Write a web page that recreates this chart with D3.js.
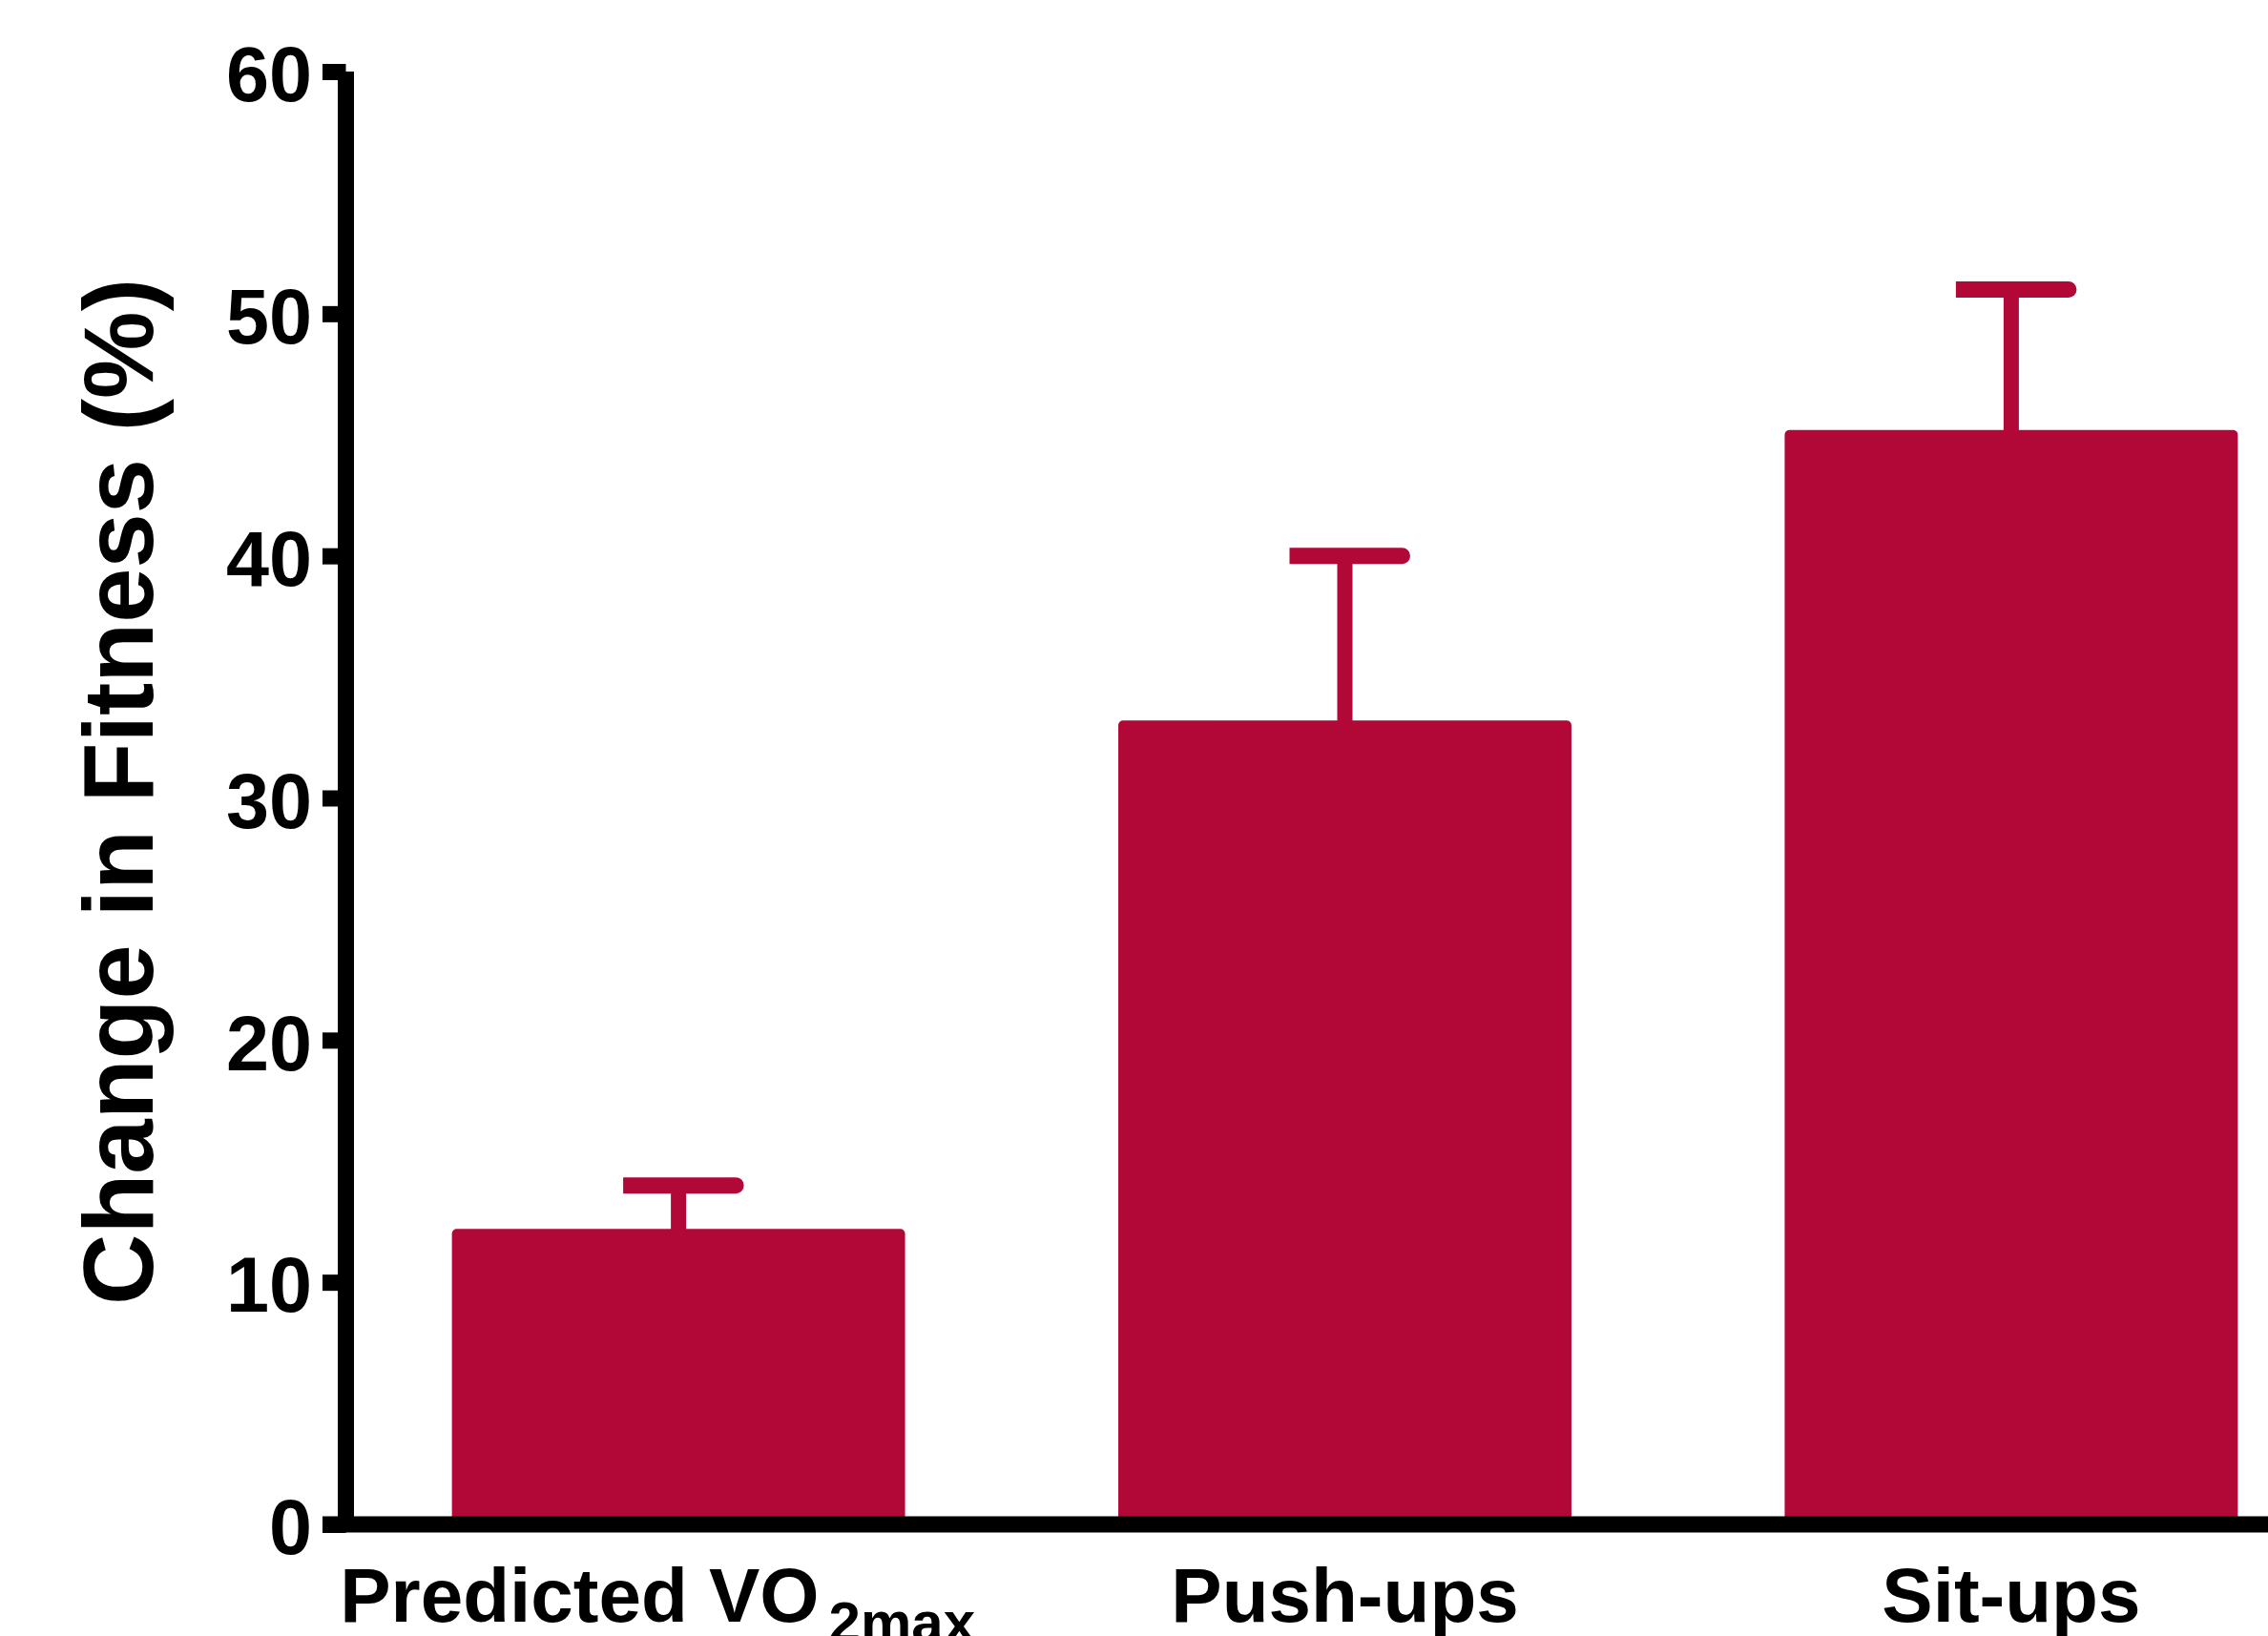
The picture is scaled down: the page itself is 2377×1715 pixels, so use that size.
<!DOCTYPE html>
<html>
<head>
<meta charset="utf-8">
<script src="https://cdn.jsdelivr.net/npm/d3@7"></script>
<style>
  html, body { margin: 0; padding: 0; background: #fff; }
  svg { display: block; }
  text { font-family: "Liberation Sans", Arial, sans-serif; font-weight: bold; fill: #000; }
</style>
</head>
<body>
<svg id="chart" width="2377" height="1715"></svg>
<script>
const categories = ["Predicted VO2max", "Push-ups", "Sit-ups"];
const means = [12.2, 33.2, 45.2];
const errors = [1.8, 6.8, 5.8];
const yTicks = [0, 10, 20, 30, 40, 50, 60];
const yTitle = "Change in Fitness (%)";

const W = 2377, H = 1715;
const barColor = "#b20838";
const svg = d3.select("#chart");

const axisX = 362.5;
const y = d3.scaleLinear().domain([0, 60]).range([1598, 75]);
const x = d3.scaleBand().domain(categories).range([364, 2455])
  .paddingInner(0.32).paddingOuter(0.157);

const data = categories.map((c, i) => ({ c, m: means[i], e: errors[i] }));

// bars
svg.append("g").selectAll("rect").data(data).join("rect")
  .attr("x", d => x(d.c))
  .attr("y", d => y(d.m))
  .attr("width", x.bandwidth())
  .attr("height", d => y(0) - y(d.m) + 5)
  .attr("rx", 5)
  .attr("fill", barColor);

// error whiskers
const eb = svg.append("g");
eb.selectAll("line").data(data).join("line")
  .attr("x1", d => x(d.c) + x.bandwidth() / 2)
  .attr("x2", d => x(d.c) + x.bandwidth() / 2)
  .attr("y1", d => y(d.m) + 2)
  .attr("y2", d => y(d.m + d.e))
  .attr("stroke", barColor)
  .attr("stroke-width", 16);
// error caps (square left end, rounded right end)
const h = 8.5;
eb.selectAll("path").data(data).join("path")
  .attr("d", d => {
    const cx = x(d.c) + x.bandwidth() / 2;
    const yy = y(d.m + d.e);
    const x0 = cx - 58, x1 = cx + 60;
    return `M${x0},${yy - h} L${x1},${yy - h} A${h},${h} 0 0 1 ${x1},${yy + h} L${x0},${yy + h} Z`;
  })
  .attr("fill", barColor);

// y axis
const yAxis = svg.append("g")
  .attr("transform", `translate(${axisX},0)`)
  .call(d3.axisLeft(y).tickValues(yTicks).tickFormat(d3.format("d"))
    .tickSize(24.5).tickSizeOuter(0).tickPadding(11));
yAxis.select(".domain").attr("stroke", "#000").attr("stroke-width", 17).attr("d", `M0,${y(60)}V${y(0)}`);
yAxis.selectAll(".tick line").attr("stroke", "#000").attr("stroke-width", 17);
yAxis.selectAll(".tick text")
  .attr("font-size", 81)
  .attr("dy", "0.38em")
  .style("font-family", '"Liberation Sans", Arial, sans-serif')
  .style("font-weight", "bold");

// x axis baseline
svg.append("line")
  .attr("x1", axisX - 24.5).attr("x2", W)
  .attr("y1", y(0)).attr("y2", y(0))
  .attr("stroke", "#000").attr("stroke-width", 17);

// x axis labels
const xAxis = svg.append("g")
  .attr("transform", `translate(0,${y(0)})`)
  .call(d3.axisBottom(x).tickSize(0).tickPadding(0));
xAxis.select(".domain").remove();
xAxis.selectAll(".tick text")
  .attr("y", 102).attr("dy", 0)
  .attr("font-size", 80)
  .style("font-family", '"Liberation Sans", Arial, sans-serif')
  .style("font-weight", "bold")
  .each(function(d) {
    if (d === "Predicted VO2max") {
      const t = d3.select(this);
      t.text(null).attr("dx", -22);
      t.append("tspan").text("Predicted VO");
      t.append("tspan").attr("font-size", 60).attr("dx", 10).attr("dy", 21).text("2max");
    }
  });

// y title
svg.append("text")
  .attr("transform", "translate(160,830) rotate(-90)")
  .attr("text-anchor", "middle")
  .attr("font-size", 103)
  .text(yTitle);
</script>
</body>
</html>
